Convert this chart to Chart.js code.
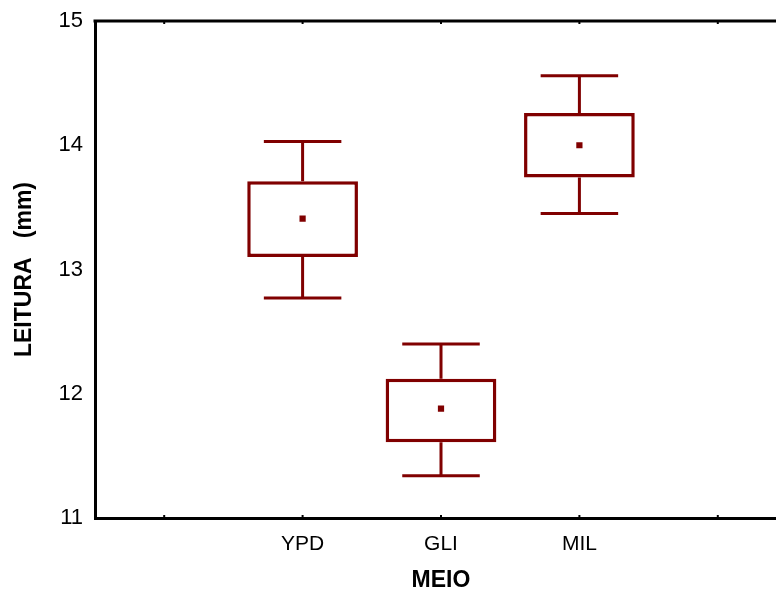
<!DOCTYPE html>
<html>
<head>
<meta charset="utf-8">
<script src="https://cdn.jsdelivr.net/npm/chart.js@4/dist/chart.umd.min.js"></script>
<style>
  html, body { margin: 0; padding: 0; background: #fff; overflow: hidden; }
  #wrap { width: 800px; height: 591px; }
</style>
</head>
<body>
<div id="wrap"><canvas id="boxChart" width="800" height="591"></canvas></div>
<script>
// categories (first and last slot are empty on the original axis)
const categories = ['', 'YPD', 'GLI', 'MIL', ''];
const means       = [null, 13.41, 11.88, 14.00, null];
const boxLow      = [null, 13.10, 11.61, 13.74, null];
const boxHigh     = [null, 13.71, 12.12, 14.26, null];
const whiskerLow  = [null, 12.77, 11.34, 13.45, null];
const whiskerHigh = [null, 14.03, 12.40, 14.56, null];
const yTicks = [11, 12, 13, 14, 15];

const darkRed = '#800000';

// whiskers, caps, little tick marks and the top frame line
const whiskerPlugin = {
  id: 'whiskers',
  afterDatasetsDraw(chart) {
    const ctx = chart.ctx;
    const x = chart.scales.x;
    const y = chart.scales.y;
    const area = chart.chartArea;
    const slot = x.getPixelForValue(1) - x.getPixelForValue(0);
    const cap = slot * 0.28;

    ctx.save();
    ctx.strokeStyle = darkRed;
    ctx.lineWidth = 3;
    for (let i = 0; i < categories.length; i++) {
      if (means[i] == null) continue;
      const cx = x.getPixelForValue(i);
      const lo = y.getPixelForValue(whiskerLow[i]);
      const hi = y.getPixelForValue(whiskerHigh[i]);
      const bLo = y.getPixelForValue(boxLow[i]);
      const bHi = y.getPixelForValue(boxHigh[i]);
      ctx.beginPath();
      ctx.moveTo(cx, bHi); ctx.lineTo(cx, hi);
      ctx.moveTo(cx - cap, hi); ctx.lineTo(cx + cap, hi);
      ctx.moveTo(cx, bLo); ctx.lineTo(cx, lo);
      ctx.moveTo(cx - cap, lo); ctx.lineTo(cx + cap, lo);
      ctx.stroke();
    }

    // frame top + tiny inward ticks
    ctx.strokeStyle = '#000';
    ctx.lineWidth = 3;
    ctx.beginPath();
    ctx.moveTo(area.left - 1.5, area.top);
    ctx.lineTo(area.right, area.top);
    ctx.stroke();
    ctx.lineWidth = 2;
    ctx.beginPath();
    for (let i = 0; i < categories.length; i++) {
      const cx = x.getPixelForValue(i);
      ctx.moveTo(cx, area.bottom); ctx.lineTo(cx, area.bottom - 3);
      ctx.moveTo(cx, area.top); ctx.lineTo(cx, area.top + 3);
    }
    ctx.stroke();
    ctx.restore();
  }
};

const boxData = boxLow.map((v, i) => v == null ? null : [v, boxHigh[i]]);

new Chart(document.getElementById('boxChart').getContext('2d'), {
  type: 'bar',
  data: {
    labels: categories,
    datasets: [
      {
        type: 'line',
        label: 'Média',
        data: means,
        showLine: false,
        pointStyle: 'rect',
        pointRadius: 4.4,
        pointBorderWidth: 0,
        pointBackgroundColor: darkRed,
        order: 0
      },
      {
        label: 'Caixa',
        data: boxData,
        backgroundColor: '#fff',
        borderColor: darkRed,
        borderWidth: 3.5,
        borderSkipped: false,
        barPercentage: 0.8,
        categoryPercentage: 1,
        order: 1
      }
    ]
  },
  options: {
    responsive: false,
    animation: false,
    events: [],
    layout: { padding: { left: 0, top: 21, right: 13, bottom: 0 } },
    plugins: { legend: { display: false }, tooltip: { enabled: false } },
    scales: {
      x: {
        offset: true,
        grid: { display: false },
        border: { display: true, color: '#000', width: 3 },
        ticks: {
          color: '#000',
          padding: 6,
          maxRotation: 0,
          autoSkip: false,
          font: { family: 'Liberation Sans, Arial, sans-serif', size: 21 }
        },
        title: {
          display: true,
          text: 'MEIO',
          color: '#000',
          padding: { top: 0, bottom: -3 },
          font: { family: 'Liberation Sans, Arial, sans-serif', size: 23, weight: 'bold' }
        },
        afterFit(scale) {
          scale.height = 73;
          scale.paddingLeft = 0; scale.paddingRight = 0;
        }
      },
      y: {
        min: 11,
        max: 15,
        grid: { display: false },
        border: { display: true, color: '#000', width: 3 },
        afterBuildTicks(scale) {
          scale.ticks = yTicks.map(v => ({ value: v }));
        },
        ticks: {
          color: '#000',
          padding: 4,
          font: { family: 'Liberation Sans, Arial, sans-serif', size: 22 }
        },
        title: {
          display: true,
          text: 'LEITURA   (mm)',
          color: '#000',
          padding: { top: 11, bottom: 0 },
          font: { family: 'Liberation Sans, Arial, sans-serif', size: 23, weight: 'bold' }
        },
        afterFit(scale) {
          scale.width = 95;
          scale.paddingTop = 0; scale.paddingBottom = 0;
        }
      }
    }
  },
  plugins: [whiskerPlugin]
});
</script>
</body>
</html>
